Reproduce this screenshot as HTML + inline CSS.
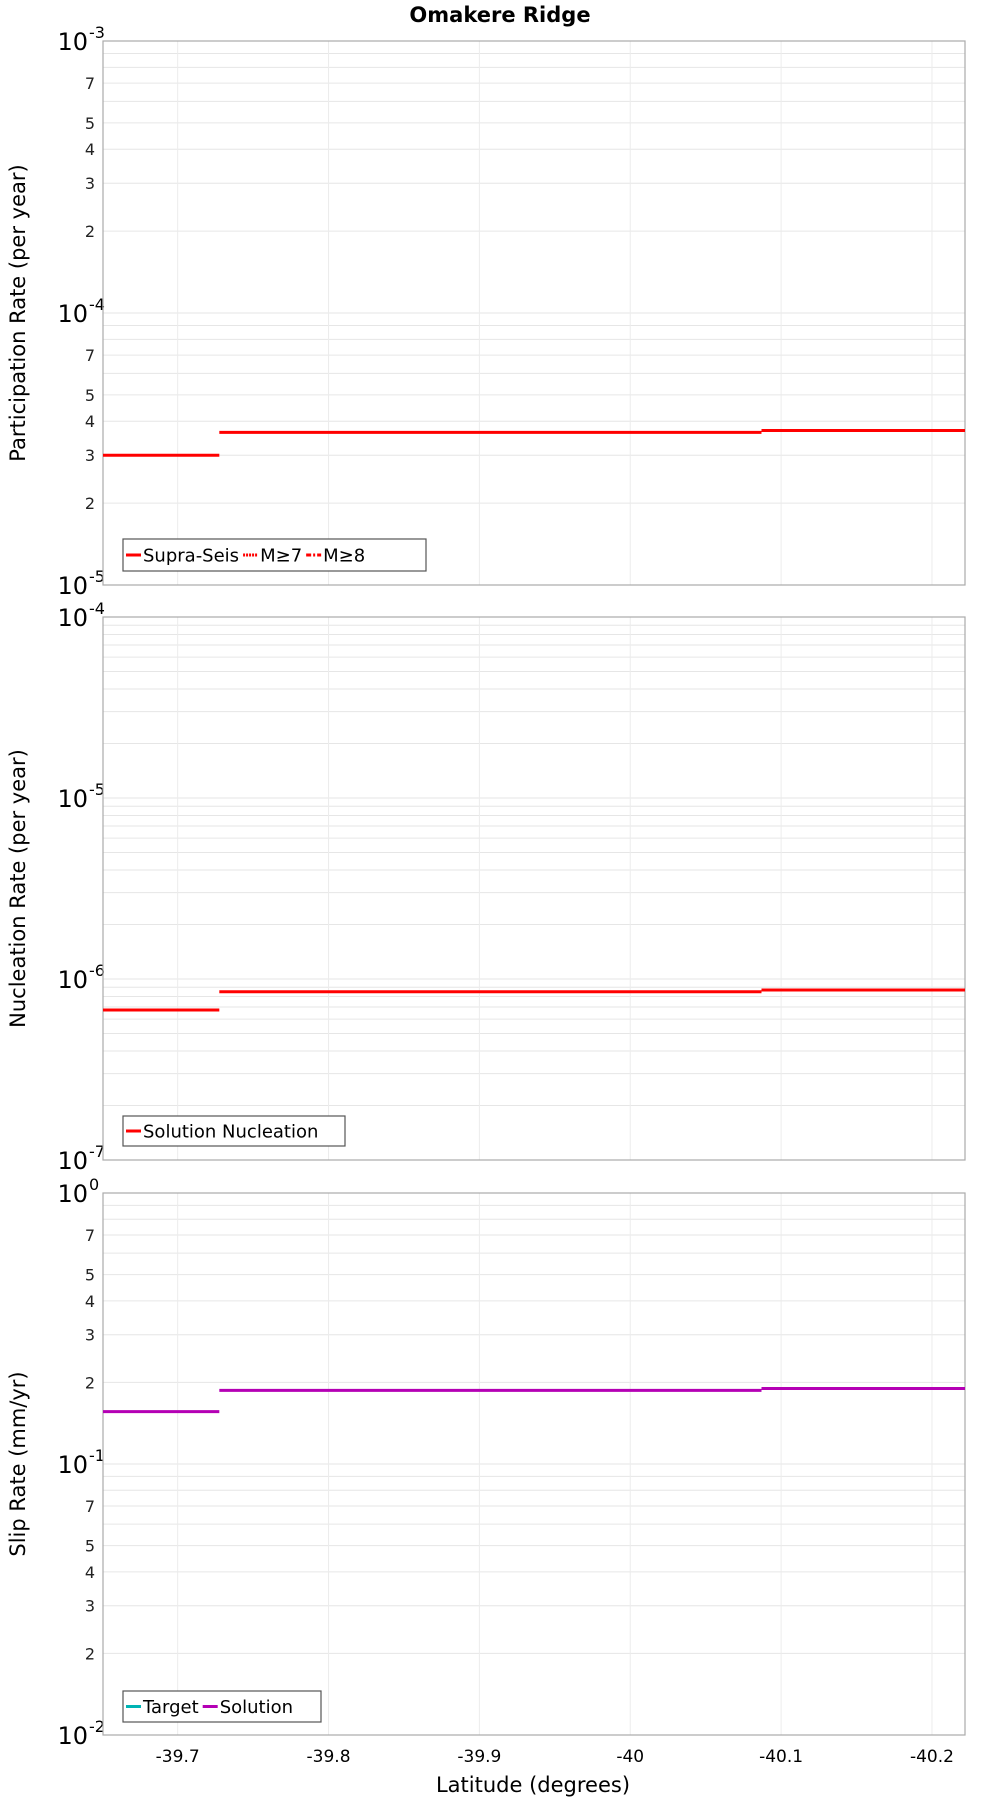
<!DOCTYPE html>
<html><head><meta charset="utf-8"><style>
html,body{margin:0;padding:0;background:#fff}
svg{display:block;font-family:"DejaVu Sans","Liberation Sans",sans-serif}
</style></head><body>
<svg id="chart" width="1000" height="1800" viewBox="0 0 1000 1800" xmlns="http://www.w3.org/2000/svg">
<text x="500" y="22" text-anchor="middle" font-size="21" font-weight="bold">Omakere Ridge</text>
<text x="533" y="1792" text-anchor="middle" font-size="21">Latitude (degrees)</text>
<g id="plots"></g>
</svg>
<script>
// shared x data (latitude section boundaries)
const stepEdges = [-39.6505, -39.7276, -40.087, -40.2219];
const xTicks = [-39.7, -39.8, -39.9, -40, -40.1, -40.2];
const xTickLabels = ["-39.7", "-39.8", "-39.9", "-40", "-40.1", "-40.2"];
// series values
const participationValues = [3.0e-5, 3.64e-5, 3.70e-5];
const nucleationValues = [6.74e-7, 8.5e-7, 8.7e-7];
const slipSolutionValues = [0.156, 0.187, 0.190];

const NS = "http://www.w3.org/2000/svg";
const L = 103, R = 965;
const xMin = -39.6505, xMax = -40.2219;
function xs(v){ return L + (v - xMin) / (xMax - xMin) * (R - L); }
function mk(tag, attrs, parent){
  const e = document.createElementNS(NS, tag);
  for (const k in attrs) e.setAttribute(k, attrs[k]);
  parent.appendChild(e); return e;
}
const root = document.getElementById("plots");

const panels = [
  {name:"participation", top:41, bottom:585, eMin:-5, eMax:-3, minorLabels:true, title:"Participation Rate (per year)",
   series:[{vals:participationValues, color:"#ff0000"}],
   legend:{x:123,y:539,w:303,h:32, items:[["Supra-Seis","#ff0000",""],["M≥7","#ff0000","2,1"],["M≥8","#ff0000","5,2,2,2"]]}},
  {name:"nucleation", top:617, bottom:1160, eMin:-7, eMax:-4, minorLabels:false, title:"Nucleation Rate (per year)",
   series:[{vals:nucleationValues, color:"#ff0000"}],
   legend:{x:123,y:1116,w:222,h:30, items:[["Solution Nucleation","#ff0000",""]]}},
  {name:"slip-rate", top:1193, bottom:1735, eMin:-2, eMax:0, minorLabels:true, title:"Slip Rate (mm/yr)",
   series:[{vals:slipSolutionValues, color:"#b400b4"}],
   legend:{x:123,y:1691,w:198,h:31, items:[["Target","#00b4b4",""],["Solution","#b400b4",""]]}}
];

panels.forEach(p=>{
  const g = mk("g",{},root);
  
  
  const ys = v => p.bottom - (Math.log10(v) - p.eMin) / (p.eMax - p.eMin) * (p.bottom - p.top);
  for (let e = p.eMin; e <= p.eMax; e++){
    for (let m = 1; m <= 9; m++){
      if (e === p.eMax && m > 1) break;
      const y = ys(m * Math.pow(10, e));
      const gl = mk("line",{x1:L,x2:R,y1:y,y2:y,stroke:"#e6e6e6","stroke-width":1},g);
      
      
      if (m === 1){
        const t = mk("text",{x:88,y:y+9,"text-anchor":"end","font-size":24},g);
        
        
        t.textContent = "10";
        const s = mk("text",{x:89,y:y-3,"font-size":16},g);
        
        
        s.textContent = String(e);
      } else if (p.minorLabels && [2,3,4,5,7].includes(m)){
        const t = mk("text",{x:95,y:y+6,"text-anchor":"end","font-size":16,fill:"#222"},g);
        
        
        t.textContent = String(m);
      }
    }
  }
  xTicks.forEach((v,i)=>{
    const x = xs(v);
    const vl = mk("line",{x1:x,x2:x,y1:p.top,y2:p.bottom,stroke:"#ececec","stroke-width":1},g);
    
    
    if (p.name === "slip-rate"){
      const t = mk("text",{x:x,y:1762,"text-anchor":"middle","font-size":17},g);
      
      
      t.textContent = xTickLabels[i];
    }
  });
  const fr = mk("rect",{x:L,y:p.top,width:R-L,height:p.bottom-p.top,fill:"none",stroke:"#aaaaaa","stroke-width":1.2},g);
  
  
  const cy = (p.top + p.bottom) / 2;
  const yt = mk("text",{x:0,y:0,transform:`translate(25,${cy}) rotate(-90)`,"text-anchor":"middle","font-size":21},g);
  
  
  yt.textContent = p.title;
  p.series.forEach(s=>{
    s.vals.forEach((v,i)=>{
      const y = ys(v);
      const ln = mk("line",{x1:xs(stepEdges[i]),x2:xs(stepEdges[i+1]),y1:y,y2:y,stroke:s.color,"stroke-width":3},g);
      
      
    });
  });
  const lg = mk("g",{},g);
  
  
  const lb = mk("rect",{x:p.legend.x,y:p.legend.y,width:p.legend.w,height:p.legend.h,fill:"#fff",stroke:"#555","stroke-width":1.2},lg);
  
  
  let cx = p.legend.x + 3;
  const my = p.legend.y + p.legend.h/2;
  p.legend.items.forEach(it=>{
    const sw = mk("line",{x1:cx,x2:cx+15,y1:my,y2:my,stroke:it[1],"stroke-width":3},lg);
    if (it[2]) sw.setAttribute("stroke-dasharray", it[2]);
    
    
    const t = mk("text",{x:cx+17,y:my+6.5,"font-size":18},lg);
    
    
    t.textContent = it[0];
    cx += 17 + t.getComputedTextLength() + 4;
  });
});
</script>
</body></html>
